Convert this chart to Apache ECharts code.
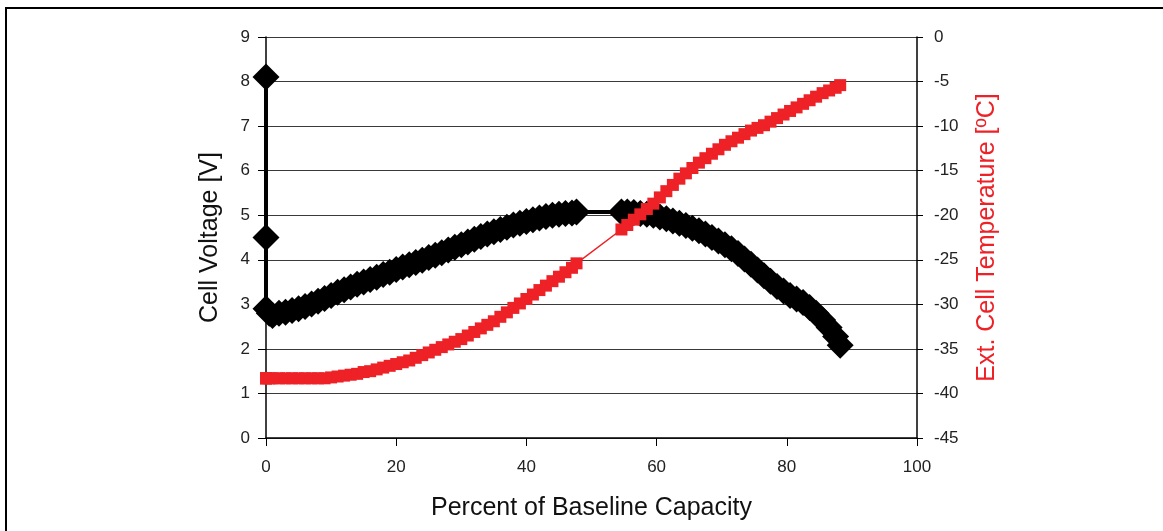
<!DOCTYPE html>
<html>
<head>
<meta charset="utf-8">
<script src="https://cdn.jsdelivr.net/npm/echarts@6/dist/echarts.min.js"></script>
<style>
  html, body { margin: 0; padding: 0; background: #fff; }
  #chart { width: 1163px; height: 531px; }
</style>
</head>
<body>
<div id="chart"></div>
<script>
// Percent of baseline capacity (shared by both series)
const capacity = [
  0, 0, 0, 0.5, 1, 2, 3, 4, 5, 6, 7, 8, 9, 10,
  11, 12, 13, 14, 15, 16, 17, 18, 19, 20,
  21, 22, 23, 24, 25, 26, 27, 28, 29, 30,
  31, 32, 33, 34, 35, 36, 37, 38, 39, 40,
  41, 42, 43, 44, 45, 46, 47, 47.7,
  54.6, 55.5, 56.5, 57.5, 58.5, 59.5, 60.5, 61.5, 62.5, 63.5,
  64.5, 65.5, 66.5, 67.5, 68.5, 69.5, 70.5, 71.5, 72.5, 73.5,
  74.5, 75.5, 76.5, 77.5, 78.5, 79.5, 80.5, 81.5, 82.5, 83.5,
  84.5, 85.5, 86.5, 87.5, 88.2
];
// Cell voltage [V]
const voltage = [
  8.1, 4.5, 2.9, 2.8, 2.75, 2.8, 2.82, 2.86, 2.9, 2.95, 3.01, 3.07, 3.13, 3.2,
  3.27, 3.33, 3.39, 3.45, 3.5, 3.56, 3.61, 3.67, 3.72, 3.78,
  3.84, 3.89, 3.94, 3.99, 4.05, 4.1, 4.16, 4.22, 4.28, 4.34,
  4.4, 4.46, 4.52, 4.58, 4.63, 4.68, 4.73, 4.78, 4.82, 4.86,
  4.9, 4.94, 4.97, 5.0, 5.02, 5.04, 5.05, 5.07,
  5.07, 5.07, 5.06, 5.04, 5.02, 5.0, 4.96, 4.92, 4.87, 4.82,
  4.77, 4.71, 4.65, 4.58, 4.5, 4.42, 4.34, 4.25, 4.14, 4.02,
  3.9, 3.77, 3.64, 3.52, 3.4, 3.3, 3.2, 3.12, 3.04, 2.93,
  2.8, 2.65, 2.48, 2.28, 2.08
];
// External cell temperature [ºC]
const temperature = [
  -38.3, -38.3, -38.3, -38.3, -38.3, -38.3, -38.3, -38.3, -38.3, -38.3, -38.3, -38.3, -38.3, -38.2,
  -38.1, -38.0, -37.9, -37.8, -37.6, -37.5, -37.3, -37.1, -36.9, -36.7,
  -36.5, -36.3, -36.0, -35.7, -35.4, -35.1, -34.8, -34.5, -34.2, -33.9,
  -33.5, -33.1, -32.7, -32.3, -31.9, -31.4, -30.9, -30.4, -29.9, -29.4,
  -28.9, -28.4, -27.9, -27.4, -26.9, -26.4, -25.9, -25.4,
  -21.6, -21.1, -20.5, -19.9, -19.3, -18.7, -18.0, -17.3, -16.6, -15.9,
  -15.3, -14.7, -14.1, -13.6, -13.1, -12.6, -12.1, -11.7, -11.3, -10.9,
  -10.5, -10.2, -9.9, -9.5, -9.1, -8.7, -8.3, -7.9, -7.5, -7.1,
  -6.7, -6.3, -6.0, -5.7, -5.4
];
const xTicks = [0, 20, 40, 60, 80, 100];
const voltageTicks = [0, 1, 2, 3, 4, 5, 6, 7, 8, 9];
const tempTicks = [-45, -40, -35, -30, -25, -20, -15, -10, -5, 0];

const voltData = capacity.map((c, i) => [c, voltage[i]]);
const tempData = capacity.map((c, i) => [c, temperature[i]]);

const FONT = '"Liberation Sans", Arial, sans-serif';
const RED = '#ee2127';

const chart = echarts.init(document.getElementById('chart'), null, { renderer: 'canvas' });
chart.setOption({
  animation: false,
  backgroundColor: '#ffffff',
  graphic: [{
    type: 'rect',
    shape: { x: 6, y: 8, width: 1300, height: 700 },
    style: { fill: 'none', stroke: '#000', lineWidth: 2 },
    silent: true, z: 100
  }],
  grid: { left: 266, right: 246, top: 37, bottom: 93, containLabel: false },
  xAxis: {
    type: 'value', min: xTicks[0], max: xTicks[xTicks.length - 1], interval: 20,
    name: 'Percent of Baseline Capacity', nameLocation: 'middle', nameGap: 58,
    nameTextStyle: { fontFamily: FONT, fontSize: 25, color: '#111' },
    axisLine: { show: true, onZero: false, lineStyle: { color: '#000', width: 1.5 } },
    axisTick: { show: true, length: 8, lineStyle: { color: '#000' } },
    axisLabel: { margin: 21, fontFamily: FONT, fontSize: 17, color: '#222' },
    splitLine: { show: false }
  },
  yAxis: [{
    type: 'value', min: voltageTicks[0], max: voltageTicks[voltageTicks.length - 1], interval: 1,
    position: 'left',
    name: 'Cell Voltage [V]', nameLocation: 'middle', nameGap: 43, nameRotate: 90,
    nameTextStyle: { fontFamily: FONT, fontSize: 25, color: '#111' },
    axisLine: { show: true, onZero: false, lineStyle: { color: '#000', width: 1.5 } },
    axisTick: { show: true, length: 8, lineStyle: { color: '#000' } },
    axisLabel: { margin: 16, fontFamily: FONT, fontSize: 17, color: '#222' },
    splitLine: { show: true, lineStyle: { color: '#3a3a3a', width: 1.2 } }
  }, {
    type: 'value', min: tempTicks[0], max: tempTicks[tempTicks.length - 1], interval: 5,
    position: 'right',
    name: 'Ext. Cell Temperature [ºC]', nameLocation: 'middle', nameGap: 58, nameRotate: 90,
    nameTextStyle: { fontFamily: FONT, fontSize: 25, color: RED },
    axisLine: { show: true, onZero: false, lineStyle: { color: '#000', width: 1.5 } },
    axisTick: { show: true, length: 6, lineStyle: { color: '#000' } },
    axisLabel: { margin: 17, fontFamily: FONT, fontSize: 17, color: '#222' },
    splitLine: { show: false }
  }],
  series: [{
    name: 'Cell Voltage',
    type: 'line', yAxisIndex: 0, data: voltData,
    symbol: 'diamond', symbolSize: 27, showAllSymbol: true,
    itemStyle: { color: '#000' },
    lineStyle: { color: '#000', width: 4 },
    z: 2
  }, {
    name: 'Ext. Cell Temperature',
    type: 'line', yAxisIndex: 1, data: tempData,
    symbol: 'rect', symbolSize: 12, showAllSymbol: true,
    itemStyle: { color: RED },
    lineStyle: { color: RED, width: 1.5 },
    z: 3
  }]
});
</script>
</body>
</html>
